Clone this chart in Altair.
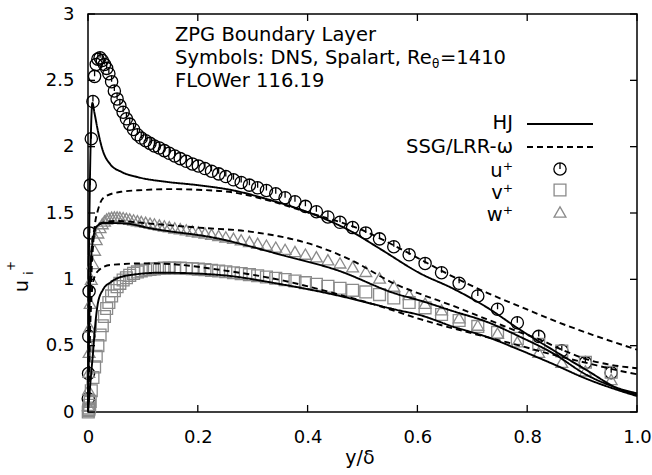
import altair as alt
import pandas as pd

FONT = "DejaVu Sans"
GREY = "#8a8a8a"

# ---------------- DNS (Spalart, Re_theta=1410) ----------------
dns_x = [0.0005, 0.001, 0.0015, 0.002, 0.003, 0.004, 0.006, 0.009, 0.012, 0.015, 0.018,
         0.022, 0.026, 0.030, 0.034, 0.038, 0.043, 0.048, 0.053, 0.058, 0.064, 0.070,
         0.076, 0.083, 0.090, 0.097, 0.105, 0.113, 0.121, 0.130, 0.139, 0.148, 0.158,
         0.168, 0.179, 0.190, 0.201, 0.213, 0.225, 0.238, 0.251, 0.265, 0.279, 0.294,
         0.309, 0.325, 0.342, 0.359, 0.377, 0.396, 0.416, 0.437, 0.459, 0.482, 0.506,
         0.531, 0.557, 0.585, 0.614, 0.644, 0.676, 0.710, 0.746, 0.782, 0.821, 0.863,
         0.906, 0.953]
dns_u = [0.10, 0.29, 0.57, 0.91, 1.35, 1.71, 2.06, 2.34, 2.53, 2.62, 2.66,
         2.67, 2.65, 2.62, 2.59, 2.55, 2.49, 2.42, 2.36, 2.31, 2.26, 2.21, 2.17, 2.13,
         2.09, 2.065, 2.045, 2.025, 2.005, 1.99, 1.97, 1.95, 1.93, 1.91, 1.89, 1.87,
         1.855, 1.835, 1.815, 1.795, 1.775, 1.75, 1.73, 1.71, 1.69, 1.67, 1.645, 1.615,
         1.585, 1.55, 1.51, 1.47, 1.43, 1.39, 1.35, 1.305, 1.246, 1.185, 1.12, 1.05,
         0.97, 0.875, 0.775, 0.673, 0.57, 0.462, 0.372, 0.296]
dns_v = [0.0, 0.01, 0.02, 0.03, 0.05, 0.08, 0.16, 0.26, 0.34, 0.42, 0.50,
         0.58, 0.65, 0.72, 0.78, 0.825, 0.875, 0.915, 0.945, 0.97, 0.995, 1.012, 1.03,
         1.045, 1.056, 1.064, 1.07, 1.075, 1.079, 1.082, 1.084, 1.085, 1.085, 1.084,
         1.082, 1.08, 1.077, 1.073, 1.068, 1.063, 1.057, 1.05, 1.043, 1.035, 1.027,
         1.018, 1.008, 0.998, 0.987, 0.975, 0.962, 0.948, 0.933, 0.917, 0.905, 0.885,
         0.86, 0.825, 0.785, 0.735, 0.69, 0.645, 0.60, 0.555, 0.51, 0.46, 0.375, 0.30]
dns_w = [0.05, 0.17, 0.30, 0.45, 0.64, 0.82, 1.00, 1.12, 1.22, 1.30, 1.35,
         1.39, 1.42, 1.44, 1.455, 1.463, 1.468, 1.47, 1.47, 1.468, 1.465, 1.46, 1.455,
         1.448, 1.442, 1.436, 1.43, 1.424, 1.418, 1.41, 1.403, 1.396, 1.388, 1.381,
         1.373, 1.365, 1.357, 1.349, 1.34, 1.33, 1.32, 1.31, 1.298, 1.285, 1.272,
         1.258, 1.243, 1.226, 1.21, 1.19, 1.17, 1.148, 1.124, 1.095, 1.06, 1.01, 0.95,
         0.885, 0.82, 0.77, 0.71, 0.655, 0.595, 0.53, 0.45, 0.375, 0.31, 0.245]

# ---------------- FLOWer: HJ model (solid) ----------------
hj_u_x = [0, 0.001, 0.003, 0.005, 0.008, 0.012, 0.018, 0.027, 0.04, 0.061, 0.091, 0.143,
          0.2, 0.265, 0.33, 0.417, 0.48, 0.532, 0.605, 0.665, 0.726, 0.787, 0.847, 0.908,
          0.969, 1.0]
hj_u_y = [0, 0.8, 1.6, 2.05, 2.33, 2.25, 2.12, 1.97, 1.87, 1.81, 1.77, 1.735,
          1.71, 1.67, 1.60, 1.48, 1.36, 1.23, 1.045, 0.93, 0.79, 0.62, 0.467, 0.316,
          0.17, 0.13]
hj_v_x = [0, 0.003, 0.006, 0.009, 0.013, 0.018, 0.027, 0.042, 0.073, 0.134, 0.234, 0.356,
          0.453, 0.562, 0.605, 0.665, 0.726, 0.787, 0.848, 0.908, 0.969, 1.0]
hj_v_y = [0, 0.15, 0.3, 0.44, 0.65, 0.82, 0.92, 0.98, 1.03, 1.05, 1.035, 0.96,
          0.88, 0.77, 0.73, 0.643, 0.567, 0.467, 0.36, 0.25, 0.16, 0.12]
hj_w_x = [0, 0.002, 0.005, 0.01, 0.016, 0.03, 0.07, 0.113, 0.234, 0.356, 0.453, 0.562,
          0.605, 0.665, 0.726, 0.787, 0.848, 0.908, 0.969, 1.0]
hj_w_y = [0, 0.6, 1.1, 1.32, 1.40, 1.425, 1.42, 1.385, 1.31, 1.18, 1.07, 0.89,
          0.84, 0.76, 0.68, 0.567, 0.44, 0.28, 0.175, 0.14]

# ---------------- FLOWer: SSG/LRR-omega model (dashed) ----------------
ssg_u_x = [0, 0.002, 0.004, 0.007, 0.012, 0.018, 0.03, 0.06, 0.1, 0.15, 0.2, 0.265, 0.31,
           0.4, 0.5, 0.56, 0.61, 0.66, 0.726, 0.79, 0.848, 0.92, 1.0]
ssg_u_y = [0, 0.4, 0.8, 1.1, 1.39, 1.52, 1.62, 1.66, 1.673, 1.68, 1.675, 1.655, 1.615,
           1.505, 1.37, 1.25, 1.14, 1.03, 0.90, 0.79, 0.69, 0.58, 0.47]
ssg_v_x = [0, 0.002, 0.005, 0.01, 0.02, 0.04, 0.1, 0.15, 0.234, 0.356, 0.453, 0.53, 0.605,
           0.665, 0.726, 0.787, 0.848, 0.908, 0.969, 1.0]
ssg_v_y = [0, 0.35, 0.75, 0.995, 1.07, 1.108, 1.12, 1.115, 1.075, 0.99, 0.89, 0.80, 0.70,
           0.63, 0.565, 0.50, 0.43, 0.37, 0.31, 0.285]
ssg_w_x = [0, 0.003, 0.006, 0.01, 0.02, 0.05, 0.113, 0.2, 0.295, 0.417, 0.477, 0.562, 0.605,
           0.665, 0.726, 0.787, 0.821, 0.863, 0.906, 0.953, 1.0]
ssg_w_y = [0, 0.8, 1.2, 1.35, 1.42, 1.44, 1.42, 1.39, 1.36, 1.25, 1.15, 0.96, 0.89,
           0.80, 0.70, 0.60, 0.55, 0.47, 0.40, 0.355, 0.33]

x_ticks = [0, 0.2, 0.4, 0.6, 0.8, 1.0]
y_ticks = [0, 0.5, 1, 1.5, 2, 2.5, 3]

W, H = 549, 398

# ---------------- tables ----------------
dns = pd.DataFrame({"x": dns_x, "u": dns_u, "v": dns_v, "w": dns_w})

lines = []
for name, xs_, ys_ in [("HJ u", hj_u_x, hj_u_y), ("HJ v", hj_v_x, hj_v_y),
                       ("HJ w", hj_w_x, hj_w_y)]:
    lines.append(pd.DataFrame({"x": xs_, "y": ys_, "series": name, "model": "HJ"}))
for name, xs_, ys_ in [("SSG u", ssg_u_x, ssg_u_y), ("SSG v", ssg_v_x, ssg_v_y),
                       ("SSG w", ssg_w_x, ssg_w_y)]:
    lines.append(pd.DataFrame({"x": xs_, "y": ys_, "series": name, "model": "SSG"}))
lines = pd.concat(lines, ignore_index=True)

xsc = alt.Scale(domain=[0, 1], nice=False, zero=False)
ysc = alt.Scale(domain=[0, 3], nice=False, zero=False)

x_axis = alt.Axis(values=x_ticks, title=None, domain=False, ticks=False, grid=False,
                  labelFont=FONT, labelFontSize=18, labelColor="black", labelPadding=16,
                  labelExpr="datum.value == 0 ? '0' : format(datum.value, '.1f')",
                  labelFlush=False, labelOverlap=False)
y_axis = alt.Axis(values=y_ticks, title=None, domain=False, ticks=False, grid=False,
                  labelFont=FONT, labelFontSize=18, labelColor="black", labelPadding=14,
                  format="~g", labelFlush=False, labelOverlap=False)

CIRCLE_TICK = "M-1,0A1,1,0,1,1,1,0A1,1,0,1,1,-1,0ZM0,-1L0,0"

X = lambda f: alt.X(f, scale=xsc, axis=x_axis)
Y = lambda f: alt.Y(f, scale=ysc, axis=y_axis)

pts_u = alt.Chart(dns).mark_point(shape=CIRCLE_TICK, filled=False, color="black",
                                  strokeWidth=1.3, size=150, opacity=1).encode(
    x=X("x:Q"), y=Y("u:Q"))
pts_v = alt.Chart(dns).mark_point(shape="square", filled=False, color=GREY,
                                  strokeWidth=1.3, size=140, opacity=1).encode(
    x=X("x:Q"), y=Y("v:Q"))
pts_w = alt.Chart(dns).mark_point(shape="triangle-up", filled=False, color=GREY,
                                  strokeWidth=1.3, size=140, opacity=1).encode(
    x=X("x:Q"), y=Y("w:Q"))

curves = alt.Chart(lines).mark_line(color="black", strokeWidth=1.9,
                                    interpolate="monotone").encode(
    x=X("x:Q"), y=Y("y:Q"),
    detail="series:N",
    strokeDash=alt.StrokeDash("model:N",
                              scale=alt.Scale(domain=["HJ", "SSG"], range=[[1, 0], [6, 4]]),
                              legend=None))

# inward ticks on all four sides (gnuplot style)
xt = pd.DataFrame({"x": x_ticks})
yt = pd.DataFrame({"y": y_ticks})
tick_b = alt.Chart(xt).mark_rule(color="black", strokeWidth=1.3).encode(
    x=X("x:Q"), y=alt.value(H), y2=alt.value(H - 7))
tick_t = alt.Chart(xt).mark_rule(color="black", strokeWidth=1.3).encode(
    x=X("x:Q"), y=alt.value(0), y2=alt.value(7))
tick_l = alt.Chart(yt).mark_rule(color="black", strokeWidth=1.3).encode(
    y=Y("y:Q"), x=alt.value(0), x2=alt.value(7))
tick_r = alt.Chart(yt).mark_rule(color="black", strokeWidth=1.3).encode(
    y=Y("y:Q"), x=alt.value(W), x2=alt.value(W - 7))

one = pd.DataFrame({"k": [0]})


def txt(s, x, y, size=19.5, align="left", angle=0):
    return alt.Chart(one).mark_text(text=s, align=align, baseline="middle", fontSize=size,
                                    font=FONT, color="black", angle=angle).encode(
        x=alt.value(x), y=alt.value(y))


def sym(shape, color, x, y, size=150):
    return alt.Chart(one).mark_point(shape=shape, filled=False, color=color, strokeWidth=1.3,
                                     size=size, opacity=1).encode(
        x=alt.value(x), y=alt.value(y))


def seg(x1, x2, y, dash):
    return alt.Chart(one).mark_rule(color="black", strokeWidth=1.9, strokeDash=dash).encode(
        x=alt.value(x1), x2=alt.value(x2), y=alt.value(y))


annot = [
    txt("ZPG Boundary Layer", 87, 21),
    txt("Symbols: DNS, Spalart, Re", 87, 44),
    txt("θ", 344, 50, size=12),
    txt("=1410", 352, 44),
    txt("FLOWer 116.19", 87, 67),
]

legend = [
    txt("HJ", 425, 109, align="right"),
    seg(439, 505, 110, [1, 0]),
    txt("SSG/LRR-ω", 425, 133, align="right"),
    seg(439, 505, 133, [6, 4]),
    txt("u⁺", 425, 157, align="right"),
    sym(CIRCLE_TICK, "black", 472, 155),
    txt("v⁺", 425, 179, align="right"),
    sym("square", GREY, 472, 176, size=140),
    txt("w⁺", 425, 201, align="right"),
    sym("triangle-up", GREY, 472, 198, size=140),
]

titles = [
    txt("y/δ", 272, 444, size=19, align="center"),
    txt("u", -66, 272, size=19.5, align="center", angle=270),
    txt("i", -59, 259, size=12, align="center", angle=270),
    txt("+", -77, 252, size=12, align="center", angle=270),
]

chart = alt.layer(pts_u, pts_v, pts_w, curves, tick_b, tick_t, tick_l, tick_r,
                  *annot, *legend, *titles).properties(
    width=W, height=H,
    autosize=alt.AutoSizeParams(type="none"),
    padding={"left": 88, "top": 14, "right": 15, "bottom": 63},
    background="white",
).configure_view(stroke="black", strokeWidth=1.5)

chart.save("out.html", embed_options={"renderer": "svg", "actions": False})
